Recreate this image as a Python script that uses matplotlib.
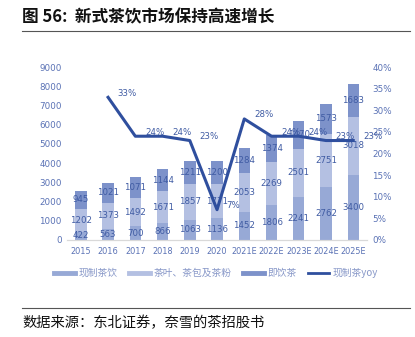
import numpy as np
import matplotlib.pyplot as plt
from matplotlib.lines import Line2D

plt.rcParams['font.family'] = ['Noto Sans CJK SC', 'DejaVu Sans']

years = ['2015', '2016', '2017', '2018', '2019', '2020',
         '2021E', '2022E', '2023E', '2024E', '2025E']
xianzhi = [422, 563, 700, 866, 1063, 1136, 1452, 1806, 2241, 2762, 3400]
chaye = [1202, 1373, 1492, 1671, 1857, 1771, 2053, 2269, 2501, 2751, 3018]
jiyin = [945, 1021, 1071, 1144, 1211, 1200, 1284, 1374, 1470, 1573, 1683]
yoy = [None, 33, 24, 24, 23, 7, 28, 24, 24, 23, 23]

c_bottom = '#97a9d6'
c_mid = '#b4c0e2'
c_top = '#7d92ca'
c_line = '#2f4f9e'
c_text = '#3f5ba3'
c_tick = '#5a72b5'

fig = plt.figure(figsize=(4.15, 3.37), dpi=100, facecolor='w')
ax = fig.add_axes([0.162, 0.288, 0.722, 0.513])
ax2 = ax.twinx()

x = np.arange(len(years))
a = np.array(xianzhi)
b = np.array(chaye)
c = np.array(jiyin)
w = 0.42
ax.bar(x, a, w, color=c_bottom, zorder=2)
ax.bar(x, b, w, bottom=a, color=c_mid, zorder=2)
ax.bar(x, c, w, bottom=a + b, color=c_top, zorder=2)

fs = 6.2
for i in range(len(x)):
    ax.text(x[i], a[i] / 2, str(a[i]), ha='center', va='center', fontsize=fs, color=c_text,
            family='DejaVu Sans', zorder=3)
    ax.text(x[i], a[i] + b[i] / 2, str(b[i]), ha='center', va='center', fontsize=fs, color=c_text,
            family='DejaVu Sans', zorder=3)
    ax.text(x[i], a[i] + b[i] + c[i] / 2, str(c[i]), ha='center', va='center', fontsize=fs,
            color=c_text, family='DejaVu Sans', zorder=3)

ax.set_ylim(0, 9000)
ax.set_yticks(range(0, 9001, 1000))
ax.set_xlim(-0.5, len(years) - 0.5)
ax.set_xticks(x)
ax.set_xticklabels(years)

yx = [i for i in range(len(yoy)) if yoy[i] is not None]
yv = [yoy[i] for i in yx]
ax2.plot(yx, yv, color=c_line, lw=2.2, zorder=4)
for i, v in zip(yx, yv):
    ax2.annotate(f'{v}%', (i, v), xytext=(7, 3), textcoords='offset points',
                 ha='left', va='center', fontsize=fs, color=c_text, family='DejaVu Sans')
ax2.set_ylim(0, 40)
ax2.set_yticks(range(0, 41, 5))
ax2.set_yticklabels([f'{t}%' for t in range(0, 41, 5)])

for axx in (ax, ax2):
    for s in ['top', 'left', 'right']:
        axx.spines[s].set_visible(False)
    axx.spines['bottom'].set_color('#d9d9d9')
    axx.tick_params(length=0, labelsize=6.3, colors=c_tick, pad=4)
    for lab in axx.get_yticklabels() + axx.get_xticklabels():
        lab.set_family('DejaVu Sans')
ax.tick_params(axis='x', labelsize=5.9, pad=5)
ax2.set_zorder(ax.get_zorder() + 1)

handles = [Line2D([0], [0], color=c_bottom, lw=3.5),
           Line2D([0], [0], color=c_mid, lw=3.5),
           Line2D([0], [0], color=c_top, lw=3.5),
           Line2D([0], [0], color=c_line, lw=2)]
labels = ['现制茶饮', '茶叶、茶包及茶粉', '即饮茶', '现制茶yoy']
fig.legend(handles, labels, loc='center', bbox_to_anchor=(0.52, 0.19), ncol=4, frameon=False,
           fontsize=7, handlelength=2.2, handletextpad=0.3, columnspacing=1.2,
           labelcolor='#8797c8')

fig.text(0.053, 0.948, '图 56:  新式茶饮市场保持高速增长', fontsize=12, fontweight='bold',
         ha='left', va='center', color='#111111')
fig.add_artist(Line2D([0.053, 0.988], [0.908, 0.908], color='#555555', lw=0.8))
fig.add_artist(Line2D([0.053, 0.988], [0.086, 0.086], color='#555555', lw=0.8))
fig.text(0.053, 0.043, '数据来源：东北证券，奈雪的茶招股书', fontsize=10.3, ha='left', va='center',
         color='#111111')

fig.savefig('out.png', dpi=100, facecolor='w')
